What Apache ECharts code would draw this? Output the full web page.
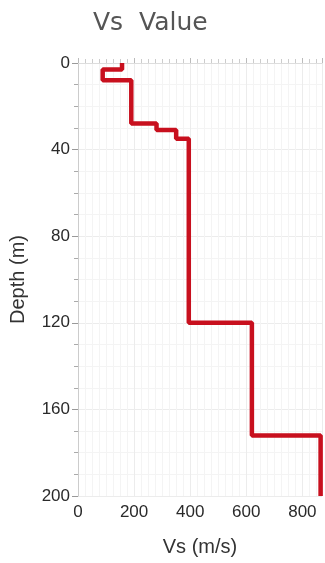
<!DOCTYPE html>
<html>
<head>
<meta charset="utf-8">
<script src="https://cdn.jsdelivr.net/npm/echarts@6/dist/echarts.min.js"></script>
<style>
html,body{margin:0;padding:0;background:#fff;}
#c{width:325px;height:563px;}
</style>
</head>
<body>
<div id="c"></div>
<script>
// Layer boundaries (depth, m) and shear-wave velocity per layer (m/s)
var layerTop    = [0, 3, 8, 28, 31, 35, 120, 172];
var layerBottom = [3, 8, 28, 31, 35, 120, 172, 200];
var vsValues    = [157, 88, 190, 280, 350, 395, 620, 865];
var yTicks = [0, 40, 80, 120, 160, 200];
var xTicks = [0, 200, 400, 600, 800];

var pts = [];
for (var i = 0; i < vsValues.length; i++) {
  pts.push([vsValues[i], layerTop[i]]);
  pts.push([vsValues[i], layerBottom[i]]);
}

var chart = echarts.init(document.getElementById('c'));
var font = 'Liberation Sans';
chart.setOption({
  animation: false,
  backgroundColor: '#fff',
  title: {
    text: 'Vs  Value',
    left: 88, top: 6,
    textStyle: {fontFamily: 'DejaVu Sans', fontSize: 25, fontWeight: 'normal', color: '#555'}
  },
  grid: {left: 78, right: 3, top: 63, bottom: 67, containLabel: false},
  xAxis: {
    type: 'value', min: 0, max: 870, interval: 200,
    name: 'Vs (m/s)', nameLocation: 'middle', nameGap: 41,
    nameTextStyle: {fontFamily: font, fontSize: 20, color: '#333'},
    axisLine: {show: true, lineStyle: {color: '#ddd'}},
    axisTick: {show: true, inside: true, length: 5, lineStyle: {color: '#bbb'}},
    minorTick: {show: true, splitNumber: 8, length: 4, lineStyle: {color: '#ccc'}},
    axisLabel: {
      fontFamily: font, fontSize: 17, color: '#2a2a2a', margin: 8,
      formatter: function (v) { return xTicks.indexOf(v) >= 0 ? String(v) : ''; }
    },
    splitLine: {show: true, lineStyle: {color: '#ececec'}},
    minorSplitLine: {show: true, lineStyle: {color: '#f4f4f4'}}
  },
  yAxis: {
    type: 'value', inverse: true, min: 0, max: 200, interval: 40,
    name: 'Depth (m)', nameLocation: 'middle', nameGap: 50,
    nameTextStyle: {fontFamily: font, fontSize: 20, color: '#333'},
    axisLine: {show: true, lineStyle: {color: '#ccc'}},
    axisTick: {show: true, length: 6, lineStyle: {color: '#999'}},
    minorTick: {show: true, splitNumber: 4, length: 4, lineStyle: {color: '#aaa'}},
    axisLabel: {
      fontFamily: font, fontSize: 17, color: '#2a2a2a', margin: 8,
      formatter: function (v) { return yTicks.indexOf(v) >= 0 ? String(v) : ''; }
    },
    splitLine: {show: true, lineStyle: {color: '#ececec'}},
    minorSplitLine: {show: true, lineStyle: {color: '#f4f4f4'}}
  },
  series: [{
    type: 'line',
    data: pts,
    symbol: 'none',
    clip: false,
    lineStyle: {color: '#c8101e', width: 4.5},
    itemStyle: {color: '#c8101e'}
  }]
});
</script>
</body>
</html>
